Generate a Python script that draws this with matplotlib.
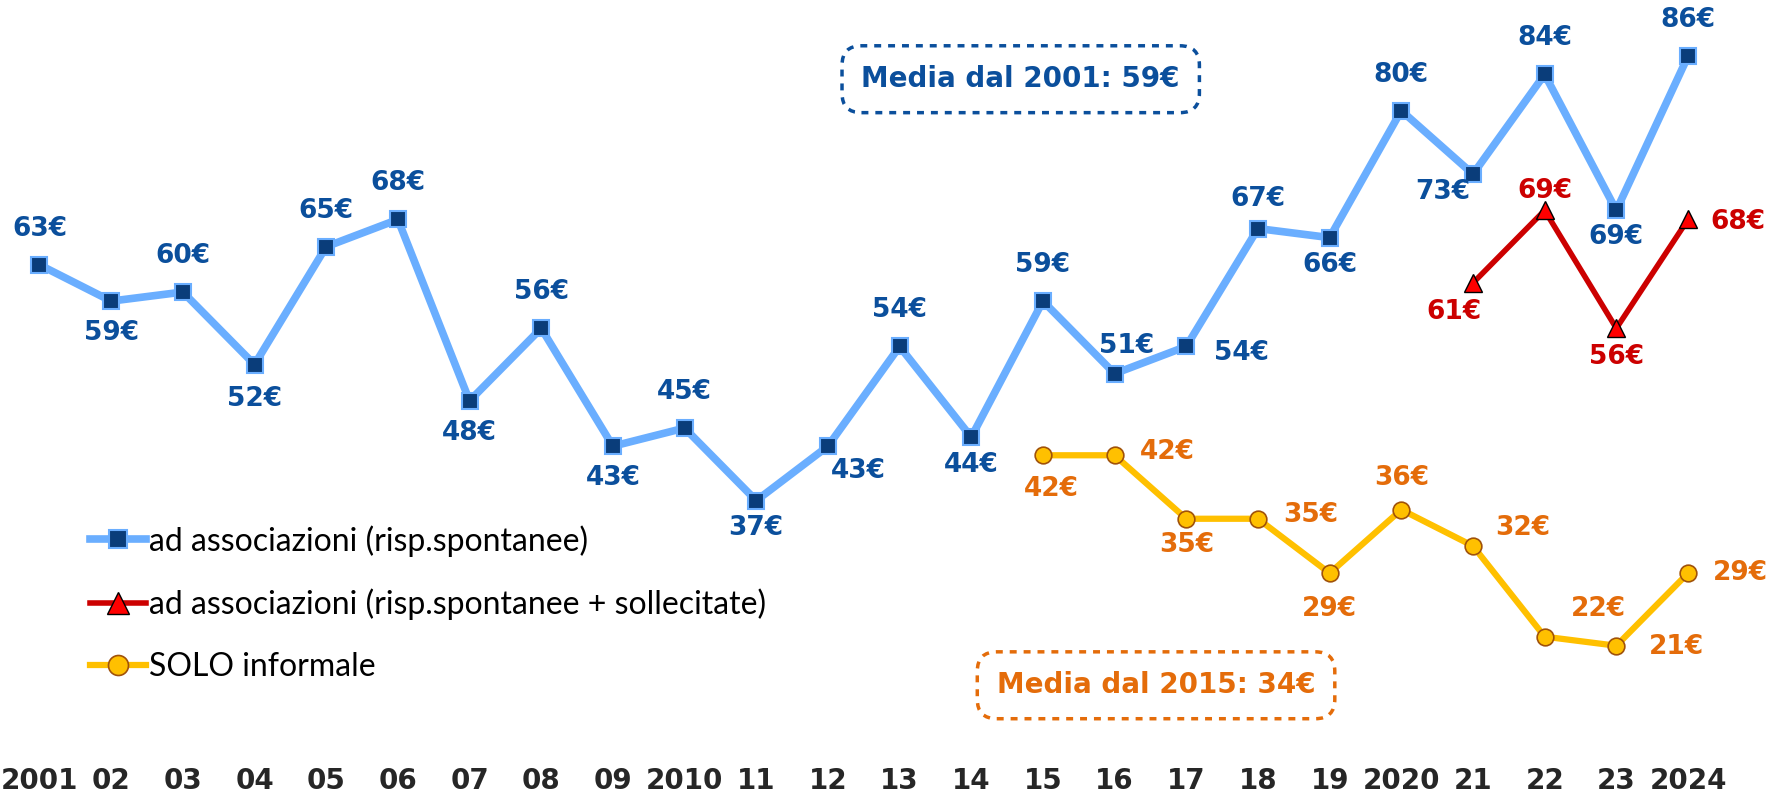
import numpy as np
import matplotlib.pyplot as plt

# years shown on the x axis
years = ['2001', '02', '03', '04', '05', '06', '07', '08', '09', '2010', '11', '12',
         '13', '14', '15', '16', '17', '18', '19', '2020', '21', '22', '23', '2024']

spontanee = [63, 59, 60, 52, 65, 68, 48, 56, 43, 45, 37, 43,
             54, 44, 59, 51, 54, 67, 66, 80, 73, 84, 69, 86]
sollecitate = [61, 69, 56, 68]          # 2021-2024
informale = [42, 42, 35, 35, 29, 36, 32, 22, 21, 29]   # 2015-2024

# label offsets (points) for each value
off_blue = [(0, 26), (0, -23), (0, 26), (0, -25), (0, 26), (0, 26), (0, -23), (0, 26),
            (0, -23), (0, 26), (0, -20), (22, -18), (0, 26), (0, -20), (0, 26), (9, 20),
            (40, -5), (0, 21), (0, -20), (0, 26), (-22, -13), (0, 26), (0, -19), (0, 26)]
off_red = [(-14, -21), (0, 14), (0, -21), (36, -2)]
off_orange = [(6, -24), (38, 2), (0, -19), (38, 3), (0, -26), (0, 23), (36, 13),
              (39, 20), (43, -1), (38, 0)]

BLUE_LINE = '#6aaeff'
BLUE_MK = '#0a3d7a'
BLUE_TXT = '#0b4f9c'
RED_LINE = '#cc0000'
RED_MK = '#ff0000'
ORANGE_LINE = '#ffc000'
ORANGE_TXT = '#e46c0a'

x = np.arange(len(years))
x_red = x[-len(sollecitate):]
x_or = x[-len(informale):]

fig = plt.figure(figsize=(17.69, 7.95), dpi=100)
ax = fig.add_axes([0, 0.06, 1, 0.94])

ax.plot(x, spontanee, color=BLUE_LINE, lw=5.5, marker='s', ms=11,
        mfc=BLUE_MK, mec=BLUE_LINE, mew=1.5, label='ad associazioni (risp.spontanee)', zorder=3)
ax.plot(x_red, sollecitate, color=RED_LINE, lw=4, marker='^', ms=13,
        mfc=RED_MK, mec='black', mew=1, label='ad associazioni (risp.spontanee + sollecitate)', zorder=4)
ax.plot(x_or, informale, color=ORANGE_LINE, lw=4.5, marker='o', ms=12,
        mfc=ORANGE_LINE, mec='#a0520a', mew=1.2, label='SOLO informale', zorder=3)

lab_font = dict(fontsize=19, fontweight='bold', ha='center', va='center')
for xi, v, o in zip(x, spontanee, off_blue):
    ax.annotate(f'{v}€', (xi, v), xytext=o, textcoords='offset points', color=BLUE_TXT, **lab_font)
for xi, v, o in zip(x_red, sollecitate, off_red):
    ax.annotate(f'{v}€', (xi, v), xytext=o, textcoords='offset points', color=RED_LINE, **lab_font)
for xi, v, o in zip(x_or, informale, off_orange):
    ax.annotate(f'{v}€', (xi, v), xytext=o, textcoords='offset points', color=ORANGE_TXT, **lab_font)

ax.text(0.577, 0.894, 'Media dal 2001: 59€', transform=ax.transAxes, color=BLUE_TXT,
        fontsize=20, fontweight='bold', ha='center', va='center',
        bbox=dict(boxstyle='round,pad=0.7,rounding_size=0.7', fc='white', ec=BLUE_TXT,
                  ls=(0, (2, 2)), lw=2.5))
ax.text(0.6535, 0.083, 'Media dal 2015: 34€', transform=ax.transAxes, color=ORANGE_TXT,
        fontsize=20, fontweight='bold', ha='center', va='center',
        bbox=dict(boxstyle='round,pad=0.7,rounding_size=0.7', fc='white', ec=ORANGE_TXT,
                  ls=(0, (2, 2)), lw=2.5))

ax.set_xlim(-0.551, 24.13)
ax.set_ylim(9.8, 92.2)
ax.set_xticks(x)
ax.set_xticklabels(years, fontsize=20, fontweight='bold', color='#262626')
ax.tick_params(axis='x', length=0, pad=14)
ax.set_yticks([])
for s in ax.spines.values():
    s.set_visible(False)

ax.legend(loc='center left', bbox_to_anchor=(0.051, 0.1925), frameon=False,
          handlelength=1.75, handletextpad=0.1, labelspacing=1.0, borderpad=0,
          borderaxespad=0, markerscale=1.2, prop={'family': 'Lato', 'size': 23})

fig.savefig('out.png', dpi=100)
